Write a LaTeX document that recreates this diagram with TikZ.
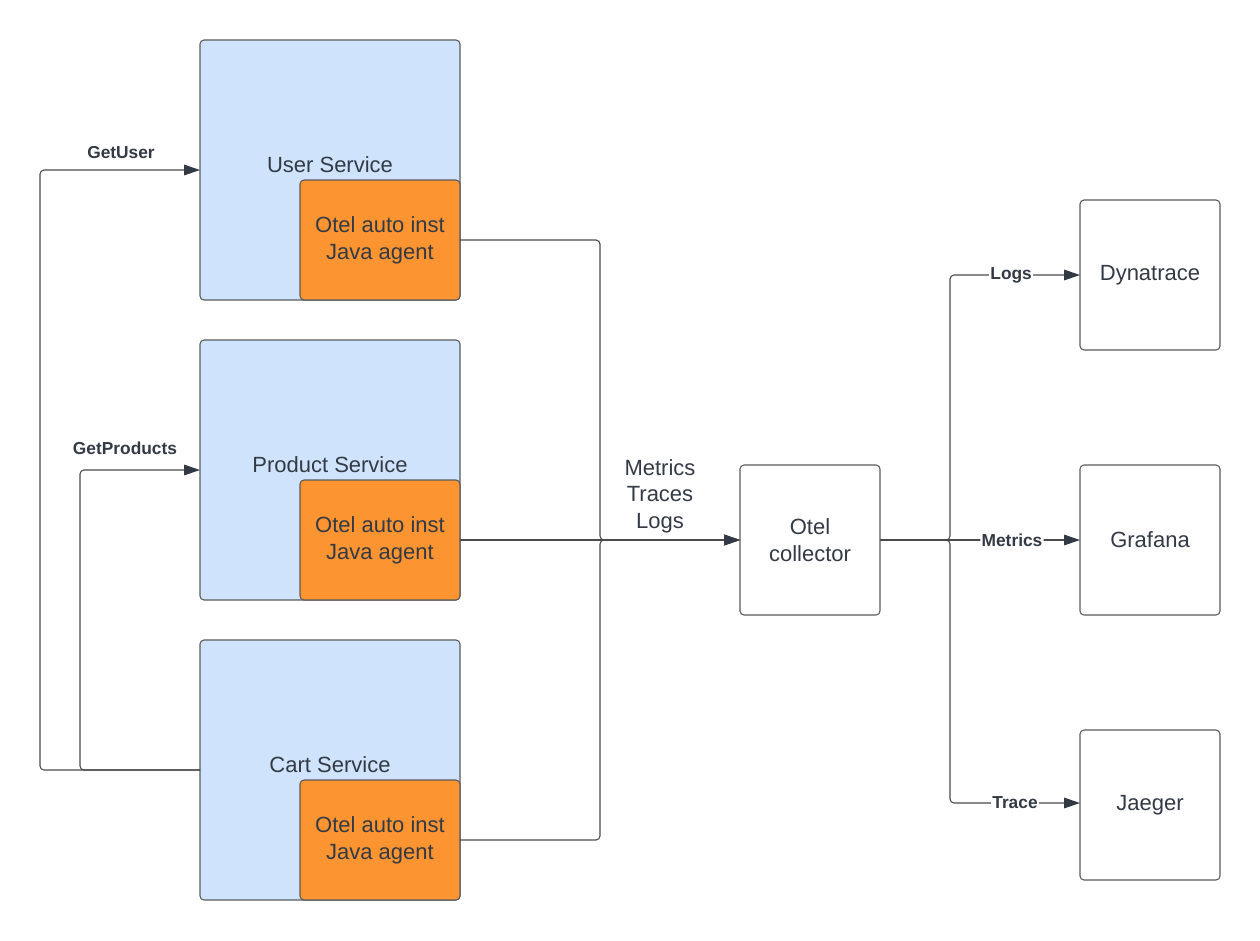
\documentclass[tikz,border=0pt]{standalone}
\usepackage{fontspec}
\setmainfont{Liberation Sans}
\usetikzlibrary{arrows.meta,positioning}
\definecolor{svcblue}{HTML}{CFE4FC}
\definecolor{agentorange}{HTML}{FC9432}
\definecolor{edgegray}{HTML}{5A5A5A}
\definecolor{txt}{HTML}{333A45}
\definecolor{linegray}{HTML}{4A4A4A}
\definecolor{tipcol}{HTML}{333A45}
\begin{document}
\begin{tikzpicture}[x=0.75pt,y=-0.75pt,
  box/.style={draw=edgegray,line width=0.8pt,rounded corners=3pt,inner sep=0pt,outer sep=0pt},
  svcbox/.style={box,fill=svcblue,minimum width=195pt,minimum height=195pt},
  agentbox/.style={box,fill=agentorange,minimum width=120pt,minimum height=90pt,align=center,font=\fontsize{16.5}{20}\selectfont,text=txt},
  sinkbox/.style={box,fill=white,minimum width=105pt,minimum height=112.5pt,align=center,font=\fontsize{16.5}{20}\selectfont,text=txt},
  svclabel/.style={font=\fontsize{16.5}{20}\selectfont,text=txt,inner sep=0pt},
  conn/.style={draw=linegray,line width=0.8pt,rounded corners=3pt},
  arr/.style={conn,-{Triangle[length=12pt,width=8pt,color=tipcol]}},
  elabel/.style={font=\bfseries\fontsize{13}{15}\selectfont,text=txt,fill=white,inner sep=1pt}
]
\useasboundingbox (0,0) rectangle (1260,940);
% services
\node[svcbox] (user) at (330,170) {};
\node[svcbox] (product) at (330,470) {};
\node[svcbox] (cart) at (330,770) {};
\node[svclabel] (userlbl) at (330,165) {User Service};
\node[svclabel] (productlbl) at (330,465) {Product Service};
\node[svclabel] (cartlbl) at (330,765) {Cart Service};
% agents
\node[agentbox] (agu) at (380,240) {Otel auto inst\\Java agent};
\node[agentbox] (agp) at (380,540) {Otel auto inst\\Java agent};
\node[agentbox] (agc) at (380,840) {Otel auto inst\\Java agent};
% collector and sinks
\node[sinkbox] (col) at (810,540) {Otel\\collector};
\node[sinkbox] (dyn) at (1150,275) {Dynatrace};
\node[sinkbox] (graf) at (1150,540) {Grafana};
\node[sinkbox] (jae) at (1150,805) {Jaeger};
% calls
\draw[arr] (cart.west) -| (40,170) -- (user.west);
\draw[arr] (cart.west) -| (80,470) -- (product.west);
\node[elabel] (getuser) at (121,153) {GetUser};
\node[elabel] (getproducts) at (125,448) {GetProducts};
% telemetry
\draw[arr] (agu.east) -| (600,540) -- (col.west);
\draw[arr] (agp.east) -- (col.west);
\draw[arr] (agc.east) -| (600,540) -- (col.west);
\node[font=\fontsize{16.5}{20}\selectfont,text=txt,align=center] (mtl) at (660,496) {Metrics\\Traces\\Logs};
% export
\draw[arr] (col.east) -| (950,275) -- node[elabel,pos=0.47] (logs) {Logs} (dyn.west);
\draw[arr] (col.east) -- node[elabel,pos=0.66] (metrics) {Metrics} (graf.west);
\draw[arr] (col.east) -| (950,803) -- node[elabel,pos=0.5] (trace) {Trace} (jae.west |- 950,803);
\end{tikzpicture}
\end{document}
